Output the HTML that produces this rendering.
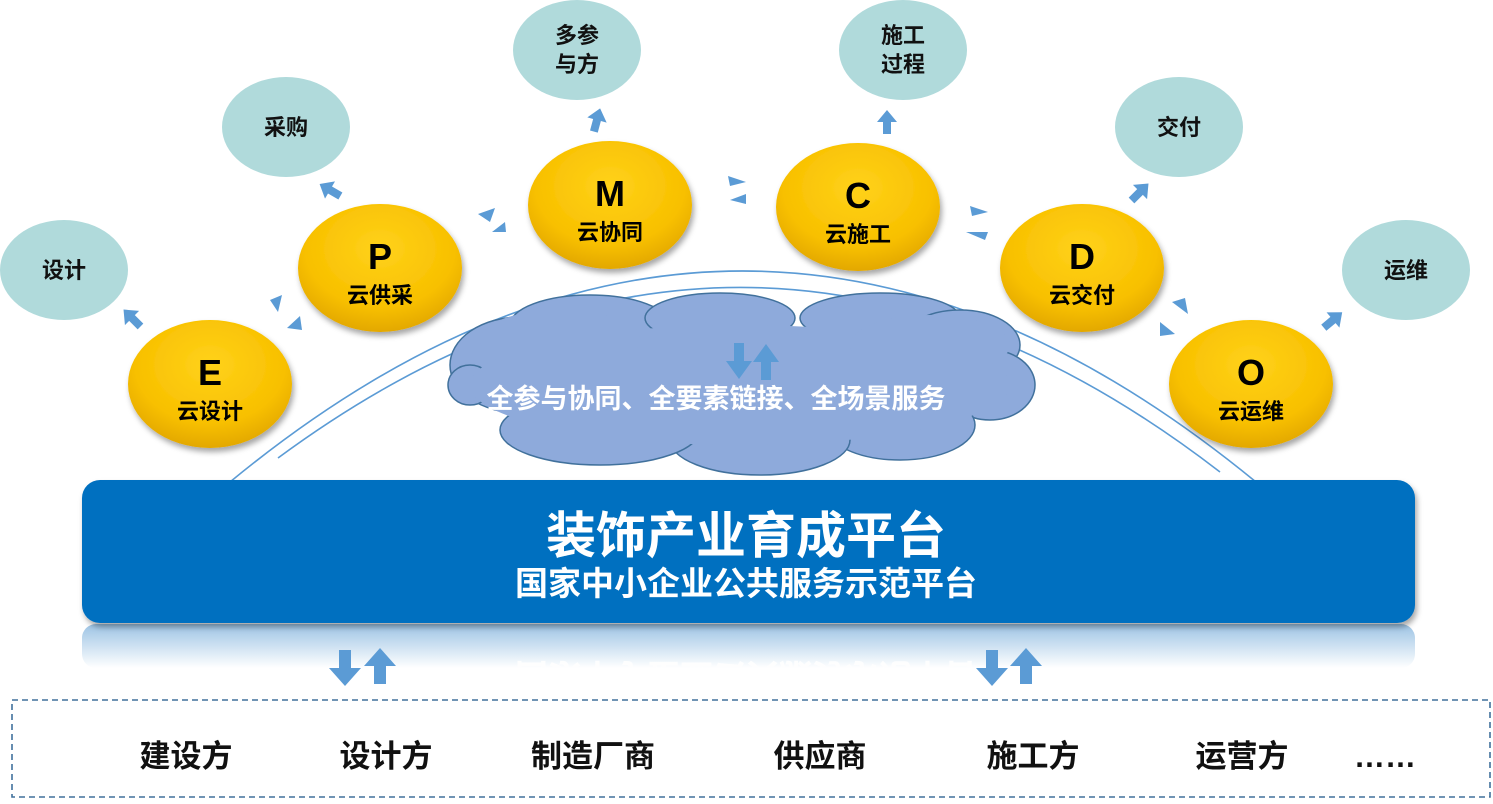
<!DOCTYPE html>
<html><head><meta charset="utf-8"><style>
body{margin:0;width:1493px;height:799px;background:#fff;overflow:hidden}
svg text{font-family:"Liberation Sans","Noto Sans CJK SC",sans-serif;font-weight:bold}
</style></head><body>
<svg width="1493" height="799" viewBox="0 0 1493 799">
<defs>
<radialGradient id="g" cx="50%" cy="35%" r="65%">
<stop offset="0" stop-color="#ffd21a"/><stop offset="0.7" stop-color="#f8c000"/><stop offset="1" stop-color="#e3a800"/></radialGradient>
<linearGradient id="refl" x1="0" y1="0" x2="0" y2="1">
<stop offset="0" stop-color="#9cc3e4"/><stop offset="1" stop-color="#ffffff"/></linearGradient>
<filter id="sh" x="-20%" y="-20%" width="140%" height="150%"><feDropShadow dx="2" dy="4" stdDeviation="3" flood-color="#000" flood-opacity="0.35"/></filter>
<g id="ar"><polygon points="0,-12 10,0 4,0 4,12 -4,12 -4,0 -10,0" fill="#5b9bd5"/></g>
<g id="arb"><polygon points="0,-18 13,0 5,0 5,18 -5,18 -5,0 -13,0" fill="#5b9bd5"/></g>
</defs>
<path d="M230,482 Q742,60 1256,482" fill="none" stroke="#5b9bd5" stroke-width="1.6"/>
<path d="M278,458 Q750,110 1220,472" fill="none" stroke="#5b9bd5" stroke-width="1.6"/>
<g fill="#8eaadb" stroke="#41719c" stroke-width="1.5">
<ellipse cx="520" cy="365" rx="70" ry="48"/>
<ellipse cx="470" cy="385" rx="22" ry="20"/>
<ellipse cx="590" cy="325" rx="80" ry="30"/>
<ellipse cx="720" cy="318" rx="75" ry="25"/>
<ellipse cx="880" cy="318" rx="80" ry="25"/>
<ellipse cx="960" cy="345" rx="60" ry="35"/>
<ellipse cx="990" cy="385" rx="45" ry="35"/>
<ellipse cx="900" cy="425" rx="75" ry="35"/>
<ellipse cx="760" cy="440" rx="90" ry="35"/>
<ellipse cx="600" cy="430" rx="100" ry="35"/>
</g>
<ellipse cx="740" cy="385" rx="270" ry="60" fill="#8eaadb"/>
<ellipse cx="560" cy="340" rx="80" ry="30" fill="#8eaadb"/>
<ellipse cx="930" cy="345" rx="80" ry="30" fill="#8eaadb"/>
<text x="716" y="408" font-size="27" fill="#fff" text-anchor="middle" font-weight="normal">全参与协同、全要素链接、全场景服务</text>
<use href="#arb" transform="translate(739,361) rotate(180)"/>
<use href="#arb" transform="translate(766,362)"/>
<g fill="#b0dadb">
<ellipse cx="64" cy="270" rx="64" ry="50"/><ellipse cx="286" cy="127" rx="64" ry="50"/>
<ellipse cx="577" cy="50" rx="64" ry="50"/><ellipse cx="903" cy="50" rx="64" ry="50"/>
<ellipse cx="1179" cy="127" rx="64" ry="50"/><ellipse cx="1406" cy="270" rx="64" ry="50"/>
</g>
<g font-size="22" text-anchor="middle" fill="#111">
<text x="64" y="278">设计</text><text x="286" y="135">采购</text>
<text x="577" y="43">多参</text><text x="577" y="72">与方</text>
<text x="903" y="43">施工</text><text x="903" y="72">过程</text>
<text x="1179" y="135">交付</text><text x="1406" y="278">运维</text>
</g>
<use href="#ar" transform="translate(132,318) rotate(-45)"/>
<use href="#ar" transform="translate(330,190) rotate(-60)"/>
<use href="#ar" transform="translate(597,120) rotate(15)"/>
<use href="#ar" transform="translate(887,122)"/>
<use href="#ar" transform="translate(1140,192) rotate(45)"/>
<use href="#ar" transform="translate(1333,320) rotate(50)"/>
<g fill="#5b9bd5">
<polygon points="270,300 282,295 278,312"/><polygon points="300,316 287,328 302,330"/>
<polygon points="478,214 495,208 490,222"/><polygon points="505,222 492,232 506,232"/>
<polygon points="728,176 746,182 730,186"/><polygon points="746,194 730,200 746,204"/>
<polygon points="970,206 988,212 972,216"/><polygon points="988,232 966,232 985,240"/>
<polygon points="1172,302 1185,298 1188,314"/><polygon points="1160,322 1175,334 1160,336"/>
</g>
<g filter="url(#sh)" fill="url(#g)">
<ellipse cx="210" cy="384" rx="82" ry="64"/><ellipse cx="380" cy="268" rx="82" ry="64"/>
<ellipse cx="610" cy="205" rx="82" ry="64"/><ellipse cx="858" cy="207" rx="82" ry="64"/>
<ellipse cx="1082" cy="268" rx="82" ry="64"/><ellipse cx="1251" cy="384" rx="82" ry="64"/>
</g>
<g text-anchor="middle" fill="#000">
<text x="210" y="385" font-size="36">E</text><text x="210" y="419" font-size="22">云设计</text>
<text x="380" y="269" font-size="36">P</text><text x="380" y="303" font-size="22">云供采</text>
<text x="610" y="206" font-size="36">M</text><text x="610" y="240" font-size="22">云协同</text>
<text x="858" y="208" font-size="36">C</text><text x="858" y="242" font-size="22">云施工</text>
<text x="1082" y="269" font-size="36">D</text><text x="1082" y="303" font-size="22">云交付</text>
<text x="1251" y="385" font-size="36">O</text><text x="1251" y="419" font-size="22">云运维</text>
</g>
<rect x="82" y="624" width="1333" height="44" rx="14" fill="url(#refl)"/>
<text x="746" y="664" font-size="33" fill="#fff" text-anchor="middle" transform="translate(0,1328) scale(1,-1)" opacity="0.9">国家中小企业公共服务示范平台</text>
<rect x="82" y="480" width="1333" height="143" rx="18" fill="#0070c0" filter="url(#sh)"/>
<text x="746" y="553" font-size="50" fill="#fff" text-anchor="middle">装饰产业育成平台</text>
<text x="746" y="595" font-size="33" fill="#fff" text-anchor="middle">国家中小企业公共服务示范平台</text>
<g fill="#5b9bd5">
<polygon points="339,650 351,650 351,668 361,668 345,686 329,668 339,668"/>
<polygon points="374,684 386,684 386,666 396,666 380,648 364,666 374,666"/>
<polygon points="986,650 998,650 998,668 1008,668 992,686 976,668 986,668"/>
<polygon points="1020,684 1032,684 1032,666 1042,666 1026,648 1010,666 1020,666"/>
</g>
<rect x="12" y="700" width="1478" height="97" fill="none" stroke="#41719c" stroke-width="1.6" stroke-dasharray="6,4"/>
<g font-size="31" fill="#111" text-anchor="middle">
<text x="186" y="767">建设方</text><text x="386" y="767">设计方</text><text x="593" y="767">制造厂商</text>
<text x="820" y="767">供应商</text><text x="1033" y="767">施工方</text><text x="1242" y="767">运营方</text>
<text x="1385" y="767">……</text>
</g>
</svg>
</body></html>
